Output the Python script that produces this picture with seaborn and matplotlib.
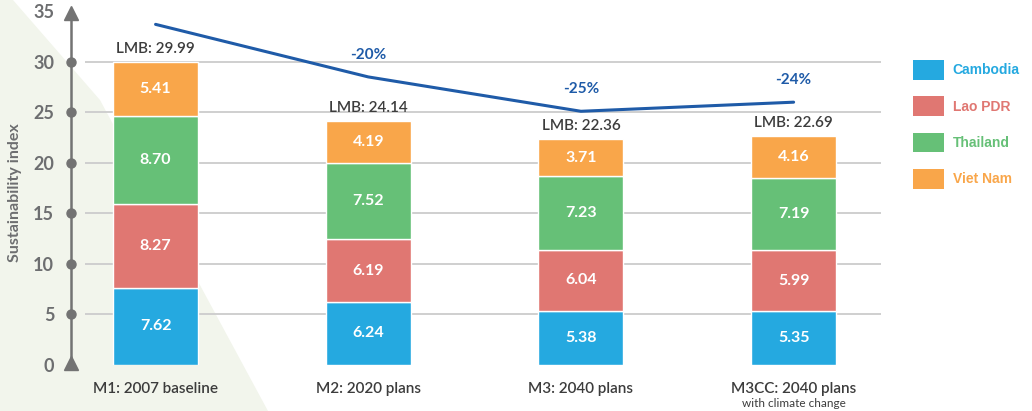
import matplotlib
matplotlib.use("Agg")
import matplotlib.pyplot as plt
from matplotlib.patches import Patch, Polygon
import seaborn as sns
import pandas as pd

scenarios = ["M1: 2007 baseline", "M2: 2020 plans", "M3: 2040 plans", "M3CC: 2040 plans"]
countries = ["Cambodia", "Lao PDR", "Thailand", "Viet Nam"]
cambodia = [7.62, 6.24, 5.38, 5.35]
lao_pdr = [8.27, 6.19, 6.04, 5.99]
thailand = [8.70, 7.52, 7.23, 7.19]
viet_nam = [5.41, 4.19, 3.71, 4.16]
lmb_total = [29.99, 24.14, 22.36, 22.69]
trend = [33.7, 28.5, 25.1, 26.0]
change_labels = ["", "-20%", "-25%", "-24%"]

colors = ["#25a9e0", "#e07772", "#66c077", "#f9a64a"]

sns.set_style("white")
plt.rcParams["font.family"] = ["Lato", "DejaVu Sans"]

df = pd.DataFrame({"scenario": scenarios, "Cambodia": cambodia, "Lao PDR": lao_pdr,
                   "Thailand": thailand, "Viet Nam": viet_nam})

fig = plt.figure(figsize=(10.32, 4.11), dpi=100)
# light green background wedge
wedge = Polygon([(0, 1), (13/1032, 1), (100/1032, 1-100/411), (268/1032, 0), (0, 0)],
                closed=True, transform=fig.transFigure, facecolor="#f2f5ec",
                edgecolor="none", zorder=-10)
fig.patches.append(wedge)
ax = fig.add_axes([0.058, 0.112, 0.7955, 0.873])
ax.set_facecolor("none")
ax.set_zorder(1)

# stacked bars
bottom = [0, 0, 0, 0]
for country, col in zip(countries, colors):
    vals = df[country].tolist()
    sns.barplot(x=df["scenario"], y=vals, bottom=bottom, color=col, width=0.4,
                saturation=1, ax=ax, zorder=3)
    for i, v in enumerate(vals):
        ax.text(i, bottom[i] + v / 2, f"{v:.2f}", ha="center", va="center",
                color="white", fontsize=11.5, fontweight="bold", zorder=4)
    bottom = [b + v for b, v in zip(bottom, vals)]

for i, t in enumerate(lmb_total):
    ax.annotate(f"LMB: {t:.2f}", (i, bottom[i]), xytext=(0, 4), textcoords="offset points",
                ha="center", va="bottom", fontsize=11, fontweight="semibold", color="#3c3c3c")

# trend line
sns.lineplot(x=list(range(len(scenarios))), y=trend, color="#1f5ba8", lw=2.2, ax=ax, zorder=5)
for i, lab in enumerate(change_labels):
    if lab:
        ax.annotate(lab, (i, trend[i]), xytext=(0, 16), textcoords="offset points",
                    ha="center", va="center", fontsize=11, fontweight="bold", color="#1f5ba8")

ax.set_xlim(-0.45, 3.41)
ax.set_ylim(0, 35.5)

# gridlines
ax.hlines(range(5, 35, 5), -0.331, 3.41, color="#cccccc", lw=1.3, zorder=1)

# custom y axis with arrows and dots
ax.plot([-0.397, -0.397], [0, 34.6], color="#737373", lw=1.8, zorder=2, clip_on=False)
ax.plot([-0.397], [34.8], marker="^", ms=10, color="#737373", clip_on=False, zorder=2)
ax.plot([-0.397], [0.15], marker="^", ms=10, color="#737373", clip_on=False, zorder=2)
ax.plot([-0.397] * 6, list(range(5, 35, 5)), "o", ms=6.5, color="#737373", clip_on=False, zorder=2)

for s in ax.spines.values():
    s.set_visible(False)
ax.set_yticks(range(0, 40, 5))
ax.set_yticklabels([str(v) for v in range(0, 40, 5)], fontsize=13, fontweight="bold", color="#6d6e70")
ax.tick_params(axis="y", length=0, pad=4)
ax.tick_params(axis="x", length=0, pad=12)
ax.set_xticks(range(len(scenarios)))
ax.set_xticklabels(scenarios, fontsize=11, fontweight="semibold", color="#3c3c3c")
ax.set_xlabel("")
ax.set_ylabel("Sustainability index", fontsize=11.5, fontweight="bold", color="#6d6e70")
ax.yaxis.set_label_coords(-0.046, 0.48)
ax.annotate("with climate change", (3, 0), xycoords=("data", "axes fraction"), xytext=(0, -27.5),
            textcoords="offset points", ha="center", va="center", fontsize=8.5, color="#3c3c3c")

handles = [Patch(facecolor=c, edgecolor="none") for c in colors]
leg = fig.legend(handles, countries, loc="upper left", bbox_to_anchor=(913/1032, 1 - 60/411),
                 frameon=False, handlelength=2.2, handleheight=1.8, labelspacing=1.2,
                 handletextpad=0.65, borderpad=0, borderaxespad=0,
                 prop={"family": "Liberation Sans", "weight": "bold", "size": 10})
for txt, c in zip(leg.get_texts(), colors):
    txt.set_color(c)

fig.savefig("out.png", dpi=100)
